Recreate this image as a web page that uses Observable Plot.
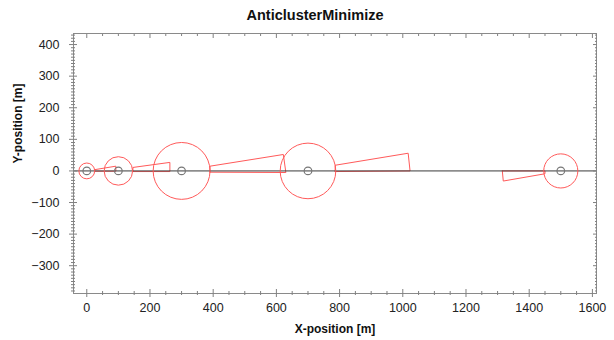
<!DOCTYPE html>
<html><head><meta charset="utf-8">
<script src="https://cdn.jsdelivr.net/npm/d3@7"></script>
<script src="https://cdn.jsdelivr.net/npm/@observablehq/plot@0.6"></script>
<style>
html,body{margin:0;padding:0;background:#fff;}
body{font-family:"Liberation Sans",Arial,sans-serif;width:614px;}
#title{box-sizing:border-box;width:614px;height:24px;line-height:30px;text-align:center;font-weight:bold;font-size:14.5px;padding-left:16px;color:#111;}
#chart svg{display:block;}
</style></head><body>
<div id="title"></div>
<div id="chart"></div>
<script>
const title = "AnticlusterMinimize";
const xLabel = "X-position [m]";
const yLabel = "Y-position [m]";

// circles (centre x, centre y, radius in m)
const circleX = [0, 100, 300, 700, 1500];
const circleY = [0, 0, 0, 0, 0];
const circleR = [25, 45, 90, 88, 54];

// red polygons (vertex lists in m)
const shapeIds = ["A", "B", "C", "D", "E"];
const shapeXs = [
  [25, 92, 92, 25],
  [146, 263, 263, 146],
  [390, 630, 622, 390],
  [786, 1023, 1017, 786],
  [1315, 1450, 1450, 1318]
];
const shapeYs = [
  [-1, -1, 15, 4],
  [-2, -2, 27, 11],
  [-4, -5, 52, 15],
  [-2, 0, 56, 18],
  [0, 0, -9, -32]
];

const xTicks = [0, 200, 400, 600, 800, 1000, 1200, 1400, 1600];
const yTicks = [-300, -200, -100, 0, 100, 200, 300, 400];
const xMinorStep = 50;
const yMinorStep = 10;
const xDomain = [-42, 1613];
const yDomain = [-388, 435];

document.getElementById("title").textContent = title;

const W = 614, H = 316, mL = 73, mR = 18, mT = 9, mB = 47;
const k = (W - mL - mR) / (xDomain[1] - xDomain[0]);

const xMinor = d3.range(xDomain[0], xDomain[1], 1).filter(v => v % xMinorStep === 0 && !xTicks.includes(v));
const yMinor = d3.range(yDomain[0], yDomain[1], 1).filter(v => v % yMinorStep === 0 && !yTicks.includes(v));

const circles = circleX.map((x, i) => ({x, y: circleY[i], r: circleR[i]}));
const pts = shapeIds.flatMap((id, i) => {
  const p = shapeXs[i].map((x, j) => ({id, x, y: shapeYs[i][j]}));
  return [...p, {...p[0]}];
});

const tickColor = "#808080";
const red = "#ff5a5a";
const tk = (dir, ticks, anchor, size) =>
  (dir === "x" ? Plot.axisX : Plot.axisY)(ticks, {anchor, tickSize: size, stroke: tickColor, fill: null, label: null});

const chart = Plot.plot({
  width: W, height: H,
  marginTop: mT, marginBottom: mB, marginLeft: mL, marginRight: mR,
  x: {domain: xDomain},
  y: {domain: yDomain},
  r: {type: "linear", domain: [0, 100], range: [0, 100 * k]},
  style: {fontFamily: "Liberation Sans, Arial, sans-serif", fontSize: "12.5px", color: "#222", background: "#fff"},
  marks: [
    Plot.line(pts, {x: "x", y: "y", z: "id", stroke: red, strokeWidth: 1}),
    Plot.ruleY([0], {stroke: "#3a3a3a", strokeWidth: 1}),
    Plot.dot(circles, {x: "x", y: "y", r: "r", stroke: red, strokeWidth: 1}),
    Plot.dot(circles, {x: "x", y: "y", r: 3.8, stroke: "#777", strokeWidth: 1.2}),
    Plot.frame({stroke: "#8a8a8a"}),
    // bottom axis
    tk("x", xTicks, "bottom", 4), tk("x", xTicks, "bottom", -4),
    tk("x", xMinor, "bottom", 2), tk("x", xMinor, "bottom", -2),
    Plot.axisX(xTicks, {anchor: "bottom", tickSize: 0, tickPadding: 10, fill: "#222", fontSize: 12.5, label: null, tickFormat: "d"}),
    // top axis
    tk("x", xTicks, "top", -4), tk("x", xMinor, "top", -2),
    // left axis
    tk("y", yTicks, "left", 4), tk("y", yTicks, "left", -4),
    tk("y", yMinor, "left", 2), tk("y", yMinor, "left", -2),
    Plot.axisY(yTicks, {anchor: "left", tickSize: 0, tickPadding: 14, fill: "#222", fontSize: 12.5, label: null, tickFormat: "d"}),
    // right axis
    tk("y", yTicks, "right", -4), tk("y", yMinor, "right", -2),
    // axis labels
    Plot.text([xLabel], {frameAnchor: "bottom", dy: 39, text: d => d, fontWeight: "bold", fontSize: 12, fill: "#111"}),
    Plot.text([yLabel], {frameAnchor: "left", dx: -55, rotate: -90, text: d => d, fontWeight: "bold", fontSize: 12, fill: "#111"})
  ]
});
document.getElementById("chart").appendChild(chart);
</script>
</body></html>
